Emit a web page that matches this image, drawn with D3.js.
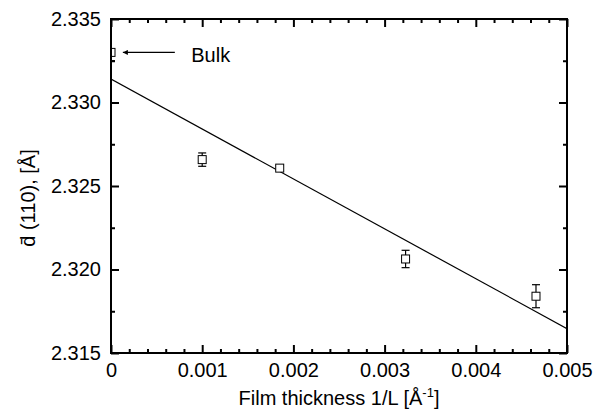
<!DOCTYPE html>
<html>
<head>
<meta charset="utf-8">
<script src="https://cdn.jsdelivr.net/npm/d3@7"></script>
<style>
body { margin: 0; background: #fff; }
text { font-family: "Liberation Sans", Arial, sans-serif; }
</style>
</head>
<body>
<svg id="chart" width="595" height="416"></svg>
<script>
// measured values (1/L in 1/Angstrom, d in Angstrom)
var xVals = [0, 0.001, 0.00185, 0.00323, 0.00466];
var yVals = [2.3330, 2.32658, 2.32607, 2.32063, 2.31840];
var yErrLo = [0.0005, 0.0004, 0.00015, 0.00052, 0.00069];
var yErrHi = [0, 0.0004, 0.00015, 0.00052, 0.00069];

// linear fit
var fitX = [0, 0.005];
var fitY = [2.3314, 2.31646];

var xTicks = [0, 0.001, 0.002, 0.003, 0.004, 0.005];
var xTickLabels = ["0", "0.001", "0.002", "0.003", "0.004", "0.005"];
var yTicks = [2.315, 2.320, 2.325, 2.330, 2.335];
var yTickLabels = ["2.315", "2.320", "2.325", "2.330", "2.335"];

var margin = {left: 111, right: 28, top: 19, bottom: 63};
var width = 595 - margin.left - margin.right;
var height = 416 - margin.top - margin.bottom;

var svg = d3.select("#chart");
var g = svg.append("g").attr("transform", "translate(" + margin.left + "," + margin.top + ")");

var x = d3.scaleLinear().domain([0, 0.005]).range([0, width]);
var y = d3.scaleLinear().domain([2.315, 2.335]).range([height, 0]);

g.append("clipPath").attr("id", "clip")
    .append("rect").attr("width", width).attr("height", height);

var plot = g.append("g").attr("clip-path", "url(#clip)");

// fit line
plot.append("line")
    .attr("x1", x(fitX[0])).attr("y1", y(fitY[0]))
    .attr("x2", x(fitX[1])).attr("y2", y(fitY[1]))
    .attr("stroke", "#000").attr("stroke-width", 1.2);

var pts = xVals.map(function(d, i){ return {x: d, y: yVals[i], lo: yErrLo[i], hi: yErrHi[i]}; });

// error bars
var eb = plot.selectAll(".eb").data(pts).enter().append("g").attr("class", "eb");
eb.append("line")
    .attr("x1", function(d){ return x(d.x); }).attr("x2", function(d){ return x(d.x); })
    .attr("y1", function(d){ return y(d.y + d.hi); }).attr("y2", function(d){ return y(d.y - d.lo); })
    .attr("stroke", "#000").attr("stroke-width", 1.2);
eb.filter(function(d){ return d.hi > 0; }).append("line")
    .attr("x1", function(d){ return x(d.x) - 4; }).attr("x2", function(d){ return x(d.x) + 4; })
    .attr("y1", function(d){ return y(d.y + d.hi); }).attr("y2", function(d){ return y(d.y + d.hi); })
    .attr("stroke", "#000").attr("stroke-width", 1.2);
eb.filter(function(d){ return d.lo > 0; }).append("line")
    .attr("x1", function(d){ return x(d.x) - 4; }).attr("x2", function(d){ return x(d.x) + 4; })
    .attr("y1", function(d){ return y(d.y - d.lo); }).attr("y2", function(d){ return y(d.y - d.lo); })
    .attr("stroke", "#000").attr("stroke-width", 1.2);

// square markers
plot.selectAll(".pt").data(pts).enter().append("rect")
    .attr("class", "pt")
    .attr("x", function(d){ return x(d.x) - 4; })
    .attr("y", function(d){ return y(d.y) - 4; })
    .attr("width", 8).attr("height", 8)
    .attr("fill", "#fff").attr("stroke", "#000").attr("stroke-width", 1);

// axes, ticks inside on all four sides
var xMinor = d3.range(0, 0.00501, 0.0002).map(function(v){ return +v.toFixed(5); });
var yMinor = d3.range(2.315, 2.3351, 0.0025).map(function(v){ return +v.toFixed(4); });

function fmtX(d){ var i = xTicks.indexOf(d); return i >= 0 ? xTickLabels[i] : ""; }
function fmtY(d){ var i = yTicks.indexOf(d); return i >= 0 ? yTickLabels[i] : ""; }
function isMajor(list){
    return function(d){ return list.some(function(t){ return Math.abs(t - d) < 1e-9; }); };
}

var axBottom = g.append("g").attr("transform", "translate(0," + height + ")")
    .call(d3.axisBottom(x).tickValues(xMinor).tickSize(-4).tickPadding(10).tickFormat(fmtX));
axBottom.selectAll(".tick").filter(isMajor(xTicks)).select("line").attr("y2", -8);

var axTop = g.append("g")
    .call(d3.axisTop(x).tickValues(xMinor).tickSize(-4).tickFormat(""));
axTop.selectAll(".tick").filter(isMajor(xTicks)).select("line").attr("y2", 8);

var axLeft = g.append("g")
    .call(d3.axisLeft(y).tickValues(yMinor).tickSize(-4).tickPadding(10).tickFormat(fmtY));
axLeft.selectAll(".tick").filter(isMajor(yTicks)).select("line").attr("x2", 8);

var axRight = g.append("g").attr("transform", "translate(" + width + ",0)")
    .call(d3.axisRight(y).tickValues(yMinor).tickSize(-4).tickFormat(""));
axRight.selectAll(".tick").filter(isMajor(yTicks)).select("line").attr("x2", -8);

[axBottom, axTop, axLeft, axRight].forEach(function(a){
    a.select(".domain").remove();
    a.attr("font-size", null).attr("font-family", null);
    a.selectAll(".tick line").attr("stroke", "#000").attr("stroke-width", 2);
    a.selectAll(".tick text").attr("fill", "#000").style("font-size", "20px");
});

g.append("rect").attr("width", width).attr("height", height)
    .attr("fill", "none").attr("stroke", "#000").attr("stroke-width", 2);

// bulk annotation
var defs = svg.append("defs");
defs.append("marker").attr("id", "arrow")
    .attr("viewBox", "0 0 10 10").attr("refX", 10).attr("refY", 5)
    .attr("markerWidth", 8).attr("markerHeight", 5).attr("orient", "auto")
    .attr("markerUnits", "userSpaceOnUse")
    .append("path").attr("d", "M0,0 L10,5 L0,10 Z").attr("fill", "#000");

g.append("line")
    .attr("x1", x(0.0007)).attr("y1", y(yVals[0]))
    .attr("x2", x(0.00013)).attr("y2", y(yVals[0]))
    .attr("stroke", "#000").attr("stroke-width", 1.2)
    .attr("marker-end", "url(#arrow)");
g.append("text")
    .attr("x", x(0.00088)).attr("y", y(yVals[0]) + 10)
    .style("font-size", "20px").text("Bulk");

// axis titles
var xt = svg.append("text")
    .attr("x", margin.left + width / 2).attr("y", 405)
    .attr("text-anchor", "middle").style("font-size", "20px");
xt.append("tspan").text("Film thickness 1/L [\u00C5");
xt.append("tspan").attr("dy", -8).style("font-size", "13px").text("-1");
xt.append("tspan").attr("dy", 8).text("]");

svg.append("text")
    .attr("transform", "translate(35,198) rotate(-90)")
    .attr("text-anchor", "middle").style("font-size", "20px")
    .text("d\u0304 (110), [\u00C5]");
</script>
</body>
</html>
